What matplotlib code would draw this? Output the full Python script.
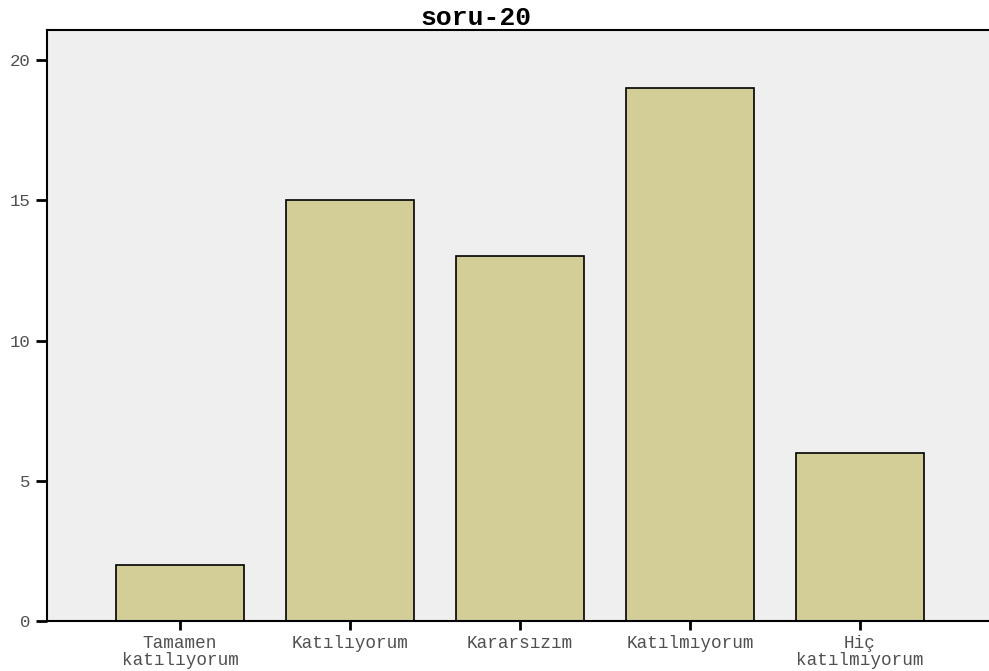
import matplotlib.pyplot as plt

categories = ['Tamamen\nkatılıyorum', 'Katılıyorum', 'Kararsızım', 'Katılmıyorum', 'Hiç\nkatılmıyorum']
counts = [2, 15, 13, 19, 6]
yticks = [0, 5, 10, 15, 20]

W, H = 989, 671
fig = plt.figure(figsize=(W / 100, H / 100), dpi=100)
left, right, top, bottom = 47, 993, 30, 621
ax = fig.add_axes([left / W, 1 - bottom / H, (right - left) / W, (bottom - top) / H])
ax.set_facecolor('#efefef')

x = range(len(categories))
ax.bar(x, counts, width=128 / 170, color='#d3ce97', edgecolor='black', linewidth=1.2, zorder=2)

ax.set_xlim(-0.782, 4.782)
ax.set_ylim(0, 21.07)
ax.set_xticks(list(x))
ax.set_xticklabels(categories, family='Liberation Mono', fontsize=12.7, color='#505050', linespacing=1.0)
ax.set_yticks(yticks)
ax.set_yticklabels([str(v) for v in yticks], family='Liberation Mono', fontsize=12.5, color='#505050')
ax.tick_params(axis='y', length=8, width=2, pad=4)
ax.tick_params(axis='x', length=6.5, width=2, pad=3.5)

for side in ['left', 'top', 'bottom']:
    ax.spines[side].set_linewidth(1.5)
ax.spines['right'].set_visible(False)

fig.text(476 / W, 1 - 18 / H, 'soru-20', ha='center', va='center',
         family='Liberation Mono', fontsize=19, fontweight='bold')

fig.savefig('out.png', dpi=100)
